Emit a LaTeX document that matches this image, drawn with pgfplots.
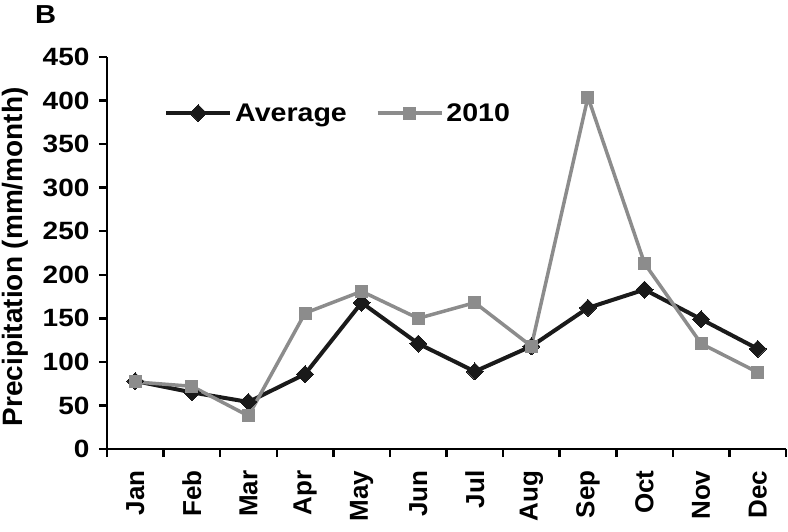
\documentclass[border=0pt]{standalone}
\usepackage{fontspec}
\setmainfont{Liberation Sans}
\newfontfamily\wide{Liberation Sans}[FakeStretch=1.12]
\usepackage{pgfplots}
\pgfplotsset{compat=1.18}
\definecolor{avgc}{HTML}{1A1A1A}
\definecolor{yrc}{HTML}{8C8C8C}
\begin{document}
\begin{tikzpicture}
\useasboundingbox (0,0) rectangle (788pt,-531pt);
\node[anchor=north west, inner sep=0pt, font=\wide\fontsize{26}{26}\selectfont\bfseries] at (35pt,-5pt) {B};
\begin{axis}[
  at={(107pt,-449pt)}, anchor=south west,
  scale only axis, width=679pt, height=392pt,
  xmin=-0.5, xmax=11.5, ymin=0, ymax=450,
  axis lines*=left,
  axis line style={line width=2.5pt, black},
  tick style={line width=2.5pt, black},
  tick align=outside,
  major tick length=8pt,
  ytick={0,50,...,450},
  xtick={-0.5,0.5,...,11.5},
  xticklabels={},
  extra x ticks={0,1,2,3,4,5,6,7,8,9,10,11},
  extra x tick labels={Jan,Feb,Mar,Apr,May,Jun,Jul,Aug,Sep,Oct,Nov,Dec},
  extra x tick style={major tick length=0pt, tick style={draw=none},
     tick label style={yshift=-18pt, rotate=90, anchor=east, font=\fontsize{26}{26}\selectfont\bfseries}},
  /pgf/number format/assume math mode=true,
  yticklabel style={xshift=-6pt, font=\wide\fontsize{25}{25}\selectfont\bfseries},
  ylabel={Precipitation (mm/month)},
  ylabel style={font=\fontsize{28}{28}\selectfont\bfseries, at={(axis description cs:-0.1355,0.49)}, rotate=0, anchor=center},
  legend style={draw=none, fill=none, at={(0.084,0.857)}, anchor=west, legend columns=2,
     font=\wide\fontsize{25.5}{25.5}\selectfont\bfseries, inner sep=0pt,
     nodes={inner xsep=3pt},
     /tikz/every even column/.append style={column sep=26pt}},
  legend image code/.code={\draw[mark repeat=2,mark phase=2,#1] plot coordinates {(0pt,0pt) (32pt,0pt) (64pt,0pt)};},
  legend cell align=left,
]
\addplot[avgc, line width=4pt, line join=round, mark=square*, mark size=6pt, mark options={rotate=45, solid, fill=avgc, draw=avgc, line width=0pt}]
  coordinates {(0,78) (1,65) (2,54) (3,86) (4,168) (5,121) (6,89) (7,118) (8,162) (9,183) (10,149) (11,115)};
\addlegendentry{Average}
\addplot[yrc, line width=3.5pt, line join=round, mark=square*, mark size=6pt, mark options={solid, fill=yrc, draw=yrc, line width=0pt}]
  coordinates {(0,77) (1,72) (2,38) (3,156) (4,181) (5,150) (6,168) (7,118) (8,404) (9,213) (10,121) (11,88)};
\addlegendentry{2010}
\end{axis}
\end{tikzpicture}
\end{document}
